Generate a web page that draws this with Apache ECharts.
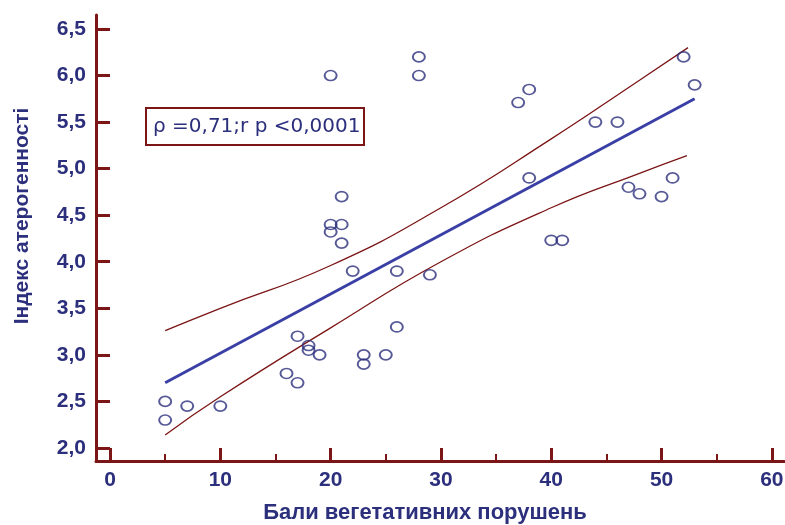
<!DOCTYPE html>
<html>
<head>
<meta charset="utf-8">
<script src="https://cdn.jsdelivr.net/npm/echarts@6/dist/echarts.min.js"></script>
<style>
  html, body { margin: 0; padding: 0; background: #fff; }
  #chart { width: 785px; height: 525px; }
</style>
</head>
<body>
<div id="chart"></div>
<script>
// точки (бали, індекс)
var points = [
    [5, 2.5], [5, 2.3], [7, 2.45], [10, 2.45], [16, 2.8], [17, 2.7], [17, 3.2],
    [18, 3.1], [18, 3.05], [19, 3.0], [20, 6.0], [20, 4.4], [20, 4.32], [21, 4.7],
    [21, 4.4], [21, 4.2], [22, 3.9], [23, 3.0], [23, 2.9], [25, 3.0], [26, 3.9],
    [26, 3.3], [28, 6.2], [28, 6.0], [29, 3.86], [37, 5.71], [38, 5.85], [38, 4.9],
    [40, 4.23], [41, 4.23], [44, 5.5], [46, 5.5], [47, 4.8], [48, 4.73], [50, 4.7],
    [51, 4.9], [52, 6.2], [53, 5.9]
];
var fitLine = [[5, 2.70], [53, 5.75]];
var upperBand = [[5, 3.26], [10, 3.50], [20, 3.96], [30, 4.58], [40, 5.32], [48, 5.95], [52.4, 6.30]];
var lowerBand = [[5, 2.14], [10, 2.55], [20, 3.29], [30, 4.00], [40, 4.58], [48, 4.95], [52.3, 5.14]];
var xTicks = [0, 10, 20, 30, 40, 50, 60];
var xMinorTicks = [5, 15, 25, 35, 45, 55];
var yTicks = [2.0, 2.5, 3.0, 3.5, 4.0, 4.5, 5.0, 5.5, 6.0, 6.5];

var navy = '#2c2f7c';
var red = '#7c1515';
var font = '"Liberation Sans", Arial, sans-serif';

var myChart = echarts.init(document.getElementById('chart'));
var option = {
    animation: false,
    grid: {
        left: 96, right: 1, top: 15, bottom: 64,
        outerBoundsMode: 'none'
    },
    xAxis: [{
        type: 'value',
        min: -1.27,
        max: 61.1,
        name: 'Бали вегетативних порушень',
        nameLocation: 'middle',
        nameGap: 41,
        nameTextStyle: { color: navy, fontSize: 22, fontWeight: 'bold', fontFamily: font, padding: [0, 30, 0, 0] },
        axisLine: { show: true, onZero: false, lineStyle: { color: red, width: 3 } },
        axisTick: { show: true, inside: true, length: 13, customValues: xTicks, lineStyle: { color: red, width: 3 } },
        axisLabel: {
            customValues: xTicks,
            color: navy, fontSize: 21, fontWeight: 'bold', fontFamily: font, margin: 9
        },
        splitLine: { show: false }
    }, {
        type: 'value',
        min: -1.27,
        max: 61.1,
        position: 'bottom',
        axisLine: { show: false, onZero: false },
        axisTick: { show: true, inside: true, length: 7, customValues: xMinorTicks, lineStyle: { color: red, width: 2 } },
        axisLabel: { show: false },
        splitLine: { show: false }
    }],
    yAxis: {
        type: 'value',
        min: 1.86,
        max: 6.65,
        name: 'Індекс атерогенності',
        nameLocation: 'middle',
        nameGap: 63,
        nameTextStyle: { color: navy, fontSize: 21, fontWeight: 'bold', fontFamily: font, padding: [0, 0, 0, 44] },
        axisLine: { show: true, onZero: false, lineStyle: { color: red, width: 3 } },
        axisTick: { show: true, inside: true, length: 14, customValues: yTicks, lineStyle: { color: red, width: 3 } },
        axisLabel: {
            customValues: yTicks,
            color: navy, fontSize: 21, fontWeight: 'bold', fontFamily: font, margin: 10,
            formatter: function (v) { return v.toFixed(1).replace('.', ','); }
        },
        splitLine: { show: false }
    },
    graphic: [{
        type: 'group',
        left: 145,
        top: 107,
        children: [{
            type: 'rect',
            shape: { x: 0, y: 0, width: 218, height: 37 },
            style: { fill: '#fff', stroke: red, lineWidth: 2 }
        }, {
            type: 'text',
            x: 7,
            y: 19,
            style: {
                text: 'ρ =0,71;r p <0,0001',
                fill: navy,
                font: '20px "DejaVu Sans", sans-serif',
                verticalAlign: 'middle'
            }
        }]
    }],
    series: [{
        type: 'line',
        data: upperBand,
        smooth: true,
        symbol: 'none',
        lineStyle: { color: red, width: 1.3 }
    }, {
        type: 'line',
        data: lowerBand,
        smooth: true,
        symbol: 'none',
        lineStyle: { color: red, width: 1.3 }
    }, {
        type: 'line',
        data: fitLine,
        symbol: 'none',
        lineStyle: { color: '#3a3fa6', width: 3 }
    }, {
        type: 'scatter',
        data: points,
        symbol: 'circle',
        symbolSize: [12, 10],
        itemStyle: { color: 'rgba(0,0,0,0)', borderColor: navy, borderWidth: 1.8 },
        z: 5
    }]
};
myChart.setOption(option);
</script>
</body>
</html>
